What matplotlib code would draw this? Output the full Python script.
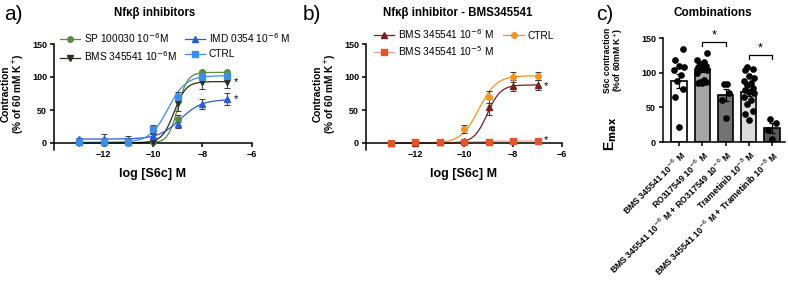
import numpy as np
import matplotlib
matplotlib.use("Agg")
import matplotlib.pyplot as plt
from matplotlib.lines import Line2D

plt.rcParams['font.family'] = ['Liberation Sans', 'DejaVu Sans']

# ---- panel a : Nfkb inhibitors ----
log_conc = [-13, -12, -11, -10, -9, -8, -7]
a_sp = [1, 0, 0, 1, 37, 107, 107]
a_sp_err = [0, 0, 0, 1, 5, 2, 2]
a_bms = [0, 0, 1, 2, 60, 93, 93]
a_bms_err = [0, 0, 1, 1, 12, 11, 10]
a_imd = [6, 6, 5, 11, 29, 59, 67]
a_imd_err = [1, 8, 6, 3, 7, 7, 9]
a_ctrl = [1, 1, 2, 21, 70, 100, 102]
a_ctrl_err = [1, 1, 1, 6, 8, 5, 4]
# fitted curve parameters: bottom, top, logEC50, hill
a_fit = {'sp': (0, 107, -9.0, 2.2), 'bms': (0.5, 93, -9.15, 1.8),
         'imd': (6, 66, -8.9, 1.0), 'ctrl': (1, 102, -9.4, 1.2)}

# ---- panel b : BMS345541 ----
b_bms6 = [0, 0, 1, 3, 55, 87, 88]
b_bms6_err = [0, 0, 1, 1, 12, 8, 7]
b_bms5 = [0, 1, 1, 2, 2, 3, 3]
b_bms5_err = [0, 0, 0, 1, 1, 1, 1]
b_ctrl = [0, 0, 1, 21, 70, 100, 101]
b_ctrl_err = [0, 1, 1, 6, 9, 7, 6]
b_fit = {'bms6': (0, 88, -9.05, 1.6), 'bms5': (0.5, 3, -9.5, 1.0),
         'ctrl': (0, 102, -9.4, 1.2)}

# ---- panel c : combinations ----
c_labels = ['BMS 345541 10$^{-6}$ M', 'RO317549 10$^{-6}$ M',
            'BMS 345541 10$^{-6}$ M + RO317549 10$^{-6}$ M',
            'Trametinib 10$^{-8}$ M',
            'BMS 345541 10$^{-6}$ M + Trametinib 10$^{-8}$ M']
c_mean = [88, 106, 68, 72, 20]
c_sem = [10, 5, 9, 5, 7]
c_points = [
    [134, 118, 110, 108, 104, 97, 88, 77, 65, 21],
    [128, 118, 115, 112, 110, 108, 106, 104, 100, 90, 86, 86, 85, 85],
    [83, 83, 70, 60, 34],
    [108, 105, 104, 95, 92, 88, 85, 82, 78, 75, 72, 70, 65, 60, 55, 45, 40, 32],
    [33, 28, 18, 4],
]
c_colors = ['white', '#a6a6a6', '#737373', '#dcdcdc', '#5a5a5a']


def logistic(x, p):
    bottom, top, ec50, hill = p
    return bottom + (top - bottom) / (1 + 10 ** ((ec50 - x) * hill))


fig = plt.figure(figsize=(7.88, 2.84), dpi=100)
W, H = 788, 284


def ax_at(x0, y_top, x1, y_bot):
    return fig.add_axes([x0 / W, 1 - y_bot / H, (x1 - x0) / W, (y_bot - y_top) / H])


def style_curve_axes(ax, x_px):
    ax.set_xlim(-14, -6)
    ax.set_ylim(-10, 150)
    ax.spines['top'].set_visible(False)
    ax.spines['right'].set_visible(False)
    ax.spines['bottom'].set_position(('data', 0))
    ax.spines['left'].set_linewidth(1.1)
    ax.spines['bottom'].set_linewidth(1.1)
    ax.set_xticks([-12, -10, -8, -6])
    ax.set_yticks([0, 50, 100, 150])
    ax.tick_params(labelsize=6.5, length=3, width=1.1, pad=2)
    for lab in ax.get_xticklabels() + ax.get_yticklabels():
        lab.set_fontweight('bold')
    fig.text((x_px + 13) / W, 1 - 94 / H, 'Contraction\n(% of 60 mM K$^{+}$)',
             rotation=90, ha='center', va='center', fontsize=7.3,
             fontweight='bold', linespacing=1.0, multialignment='center')
    ax.text(0.5, -0.23, 'log [S6c] M', transform=ax.transAxes, ha='center',
            va='center', fontsize=9, fontweight='bold')


xs = np.linspace(-13, -7, 300)
err_col = '#3a3a3a'


def series(ax, y, e, p, color, marker, lcolor=None):
    ax.errorbar(log_conc, y, yerr=e, fmt='none', ecolor=err_col, elinewidth=0.7,
                capsize=2.2, capthick=0.7, zorder=3)
    ax.plot(xs, logistic(xs, p), color=lcolor or color, lw=0.9, zorder=2)
    ax.plot(log_conc, y, linestyle='none', marker=marker, color=color,
            markersize=4, zorder=4)


# panel a
axa = ax_at(54, 44, 252, 149.6)
style_curve_axes(axa, 0)
col_sp, col_bms, col_imd, col_ctrl = '#5d8a48', '#2a2d20', '#2a5ad4', '#3d8fe6'
series(axa, a_sp, a_sp_err, a_fit['sp'], col_sp, 'o')
series(axa, a_bms, a_bms_err, a_fit['bms'], col_bms, 'v')
series(axa, a_imd, a_imd_err, a_fit['imd'], col_imd, '^')
series(axa, a_ctrl, a_ctrl_err, a_fit['ctrl'], col_ctrl, 's')
axa.text(-6.75, a_bms[-1] - 1, '*', fontsize=8, va='center', ha='left')
axa.text(-6.75, a_imd[-1] - 1, '*', fontsize=8, va='center', ha='left')
ha = [Line2D([], [], color=c, marker=m, markersize=4, lw=0.9)
      for c, m in [(col_sp, 'o'), (col_bms, 'v'), (col_imd, '^'), (col_ctrl, 's')]]
fig.legend(ha, ['SP 100030 10$^{-6}$M', 'BMS 345541 10$^{-6}$M',
                'IMD 0354 10$^{-6}$ M', 'CTRL'],
           loc='upper left', bbox_to_anchor=(60 / W, 1 - 31 / H), ncol=2,
           frameon=False, fontsize=7.3, borderpad=0, borderaxespad=0,
           handlelength=2.0, handletextpad=0.4, columnspacing=0.7,
           labelspacing=0.45)
fig.text(155 / W, 1 - 13 / H, 'Nf\u03ba\u03b2 inhibitors', ha='center', va='center',
         fontsize=8.3, fontweight='bold')
fig.text(4 / W, 1 - 15 / H, 'a)', ha='left', va='center', fontsize=15)

# panel b
axb = ax_at(366, 44, 562, 149.6)
style_curve_axes(axb, 312)
col_b6, col_b5, col_bc = '#7a1d1d', '#e8532b', '#f7931e'
series(axb, b_ctrl, b_ctrl_err, b_fit['ctrl'], col_bc, 'o')
series(axb, b_bms6, b_bms6_err, b_fit['bms6'], col_b6, '^')
series(axb, b_bms5, b_bms5_err, b_fit['bms5'], col_b5, 's', lcolor='#f2a08a')
axb.text(-6.75, b_bms6[-1] - 1, '*', fontsize=8, va='center', ha='left')
axb.text(-6.75, b_bms5[-1] + 1, '*', fontsize=8, va='center', ha='left')
hb = [Line2D([], [], color=col_b6, marker='^', markersize=4, lw=0.9),
      Line2D([], [], color='#f2a08a', marker='s', markerfacecolor=col_b5,
             markeredgecolor=col_b5, markersize=4, lw=0.9),
      Line2D([], [], color=col_bc, marker='o', markersize=4, lw=0.9)]
fig.legend(hb, ['BMS 345541 10$^{-6}$ M', 'BMS 345541 10$^{-5}$ M', 'CTRL'],
           loc='upper left', bbox_to_anchor=(374 / W, 1 - 27 / H), ncol=2,
           frameon=False, fontsize=7.3, borderpad=0, borderaxespad=0,
           handlelength=2.0, handletextpad=0.4, columnspacing=0.9,
           labelspacing=0.3)
fig.text(458 / W, 1 - 13 / H, 'Nf\u03ba\u03b2 inhibitor - BMS345541', ha='center',
         va='center', fontsize=8.3, fontweight='bold')
fig.text(303 / W, 1 - 15 / H, 'b)', ha='left', va='center', fontsize=15)

# panel c
axc = ax_at(663, 38, 785, 142)
xc = np.arange(len(c_mean))
axc.bar(xc, c_mean, width=0.65, color=c_colors, edgecolor='black', linewidth=1.2,
        zorder=1)
axc.errorbar(xc, c_mean, yerr=c_sem, fmt='none', ecolor='black', elinewidth=0.9,
             capsize=2.5, capthick=0.9, zorder=2)
pattern = np.array([0.0, -0.17, 0.17, -0.08, 0.08, -0.22, 0.22])
for i, pts in enumerate(c_points):
    rank = np.argsort(np.argsort(pts))
    offs = pattern[rank % len(pattern)]
    axc.plot(i + offs, pts, 'o', color='black', markersize=3.8, zorder=3,
             clip_on=False)
axc.set_xlim(-0.69, 4.56)
axc.set_ylim(0, 150)
axc.spines['top'].set_visible(False)
axc.spines['right'].set_visible(False)
axc.spines['left'].set_linewidth(1.1)
axc.spines['bottom'].set_linewidth(1.1)
axc.set_yticks([0, 50, 100, 150])
axc.set_xticks(xc)
axc.set_xticklabels(c_labels, rotation=45, ha='right', rotation_mode='anchor',
                    fontsize=6.3, fontweight='bold')
axc.tick_params(axis='y', labelsize=6.5, length=3, width=1.1, pad=2)
axc.tick_params(axis='x', length=3, width=1.1, pad=2)
for lab in axc.get_yticklabels():
    lab.set_fontweight('bold')
for (x1, x2, yb) in [(1, 2, 144), (3, 4, 125)]:
    axc.plot([x1, x1, x2, x2], [yb - 5, yb, yb, yb - 5], color='black', lw=0.9,
             clip_on=False)
    axc.text((x1 + x2) / 2, yb + 1, '*', ha='center', va='bottom', fontsize=9)
fig.text(608 / W, 1 - 60 / H, 'S6c contraction', rotation=90, ha='center',
         va='center', fontsize=6.2, fontweight='bold')
fig.text(618 / W, 1 - 60 / H, '(%of 60mM K$^{+}$)', rotation=90, ha='center',
         va='center', fontsize=6.2, fontweight='bold')
fig.text(611 / W, 1 - 151 / H, r'E$_{\mathbf{max}}$', rotation=90, ha='center',
         va='bottom', fontsize=10, fontweight='bold')
fig.text(713 / W, 1 - 13 / H, 'Combinations', ha='center', va='center',
         fontsize=8.5, fontweight='bold')
fig.text(596 / W, 1 - 15 / H, 'c)', ha='left', va='center', fontsize=15)

fig.savefig('out.png', dpi=100)
